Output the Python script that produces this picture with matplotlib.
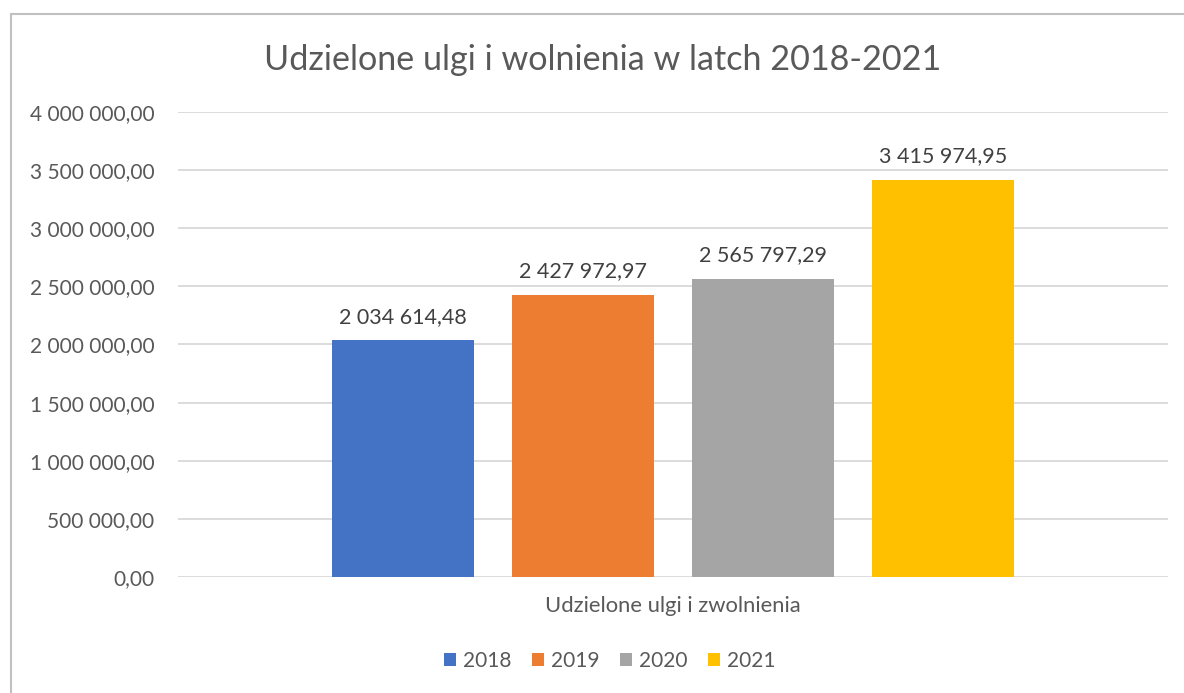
import matplotlib.pyplot as plt
from matplotlib.lines import Line2D
from matplotlib.patches import Patch

years = ['2018', '2019', '2020', '2021']
values = [2034614.48, 2427972.97, 2565797.29, 3415974.95]
colors = ['#4472c4', '#ed7d31', '#a5a5a5', '#ffc000']
category = 'Udzielone ulgi i zwolnienia'
title = 'Udzielone ulgi i wolnienia w latch 2018-2021'
yticks = [0, 500000, 1000000, 1500000, 2000000, 2500000, 3000000, 3500000, 4000000]

plt.rcParams['font.family'] = ['Lato', 'DejaVu Sans']
text_color = '#595959'


def fmt(v):
    # polish style: space thousands, comma decimals
    s = '{:,.2f}'.format(v)
    return s.replace(',', ' ').replace('.', ',')


fig = plt.figure(figsize=(11.84, 6.93), dpi=100)
ax = fig.add_axes([0.1503, 0.1674, 0.8362, 0.6710])

step = 0.1818
width = 0.1434
n = len(years)
for i in range(n):
    x = (i - (n - 1) / 2) * step
    ax.bar(x, values[i], width=width, color=colors[i], zorder=2)
    ax.text(x, values[i] + 115000, fmt(values[i]), ha='center', va='bottom',
            fontsize=15.5, color='#404040')

ax.set_xlim(-0.5, 0.5)
ax.set_ylim(0, 4000000)
ax.set_yticks(yticks)
ax.set_yticklabels([fmt(v) for v in yticks], fontsize=15, color=text_color)
ax.set_xticks([0])
ax.set_xticklabels([category], fontsize=15.8, color=text_color)
ax.tick_params(length=0)
ax.tick_params(axis='y', pad=17)
ax.tick_params(axis='x', pad=14)
ax.grid(axis='y', color='#d9d9d9', linewidth=1.3, zorder=0)
for s in ax.spines.values():
    s.set_visible(False)

fig.text(0.509, 0.913, title, ha='center', va='center', fontsize=24.6, color=text_color)

handles = [Patch(facecolor=c) for c in colors]
fig.legend(handles, years, loc='center', bbox_to_anchor=(0.515, 0.046), ncol=4,
           frameon=False, fontsize=15, handlelength=0.6, handleheight=0.6,
           handletextpad=0.35, columnspacing=0.95, labelcolor=text_color)

# chart border (left and top visible)
fig.add_artist(Line2D([11 / 1184, 11 / 1184], [0, 1 - 14 / 693], color='#c0c0c0', lw=1.5))
fig.add_artist(Line2D([11 / 1184, 1], [1 - 14 / 693, 1 - 14 / 693], color='#c0c0c0', lw=1.5))

fig.savefig('out.png', dpi=100)
